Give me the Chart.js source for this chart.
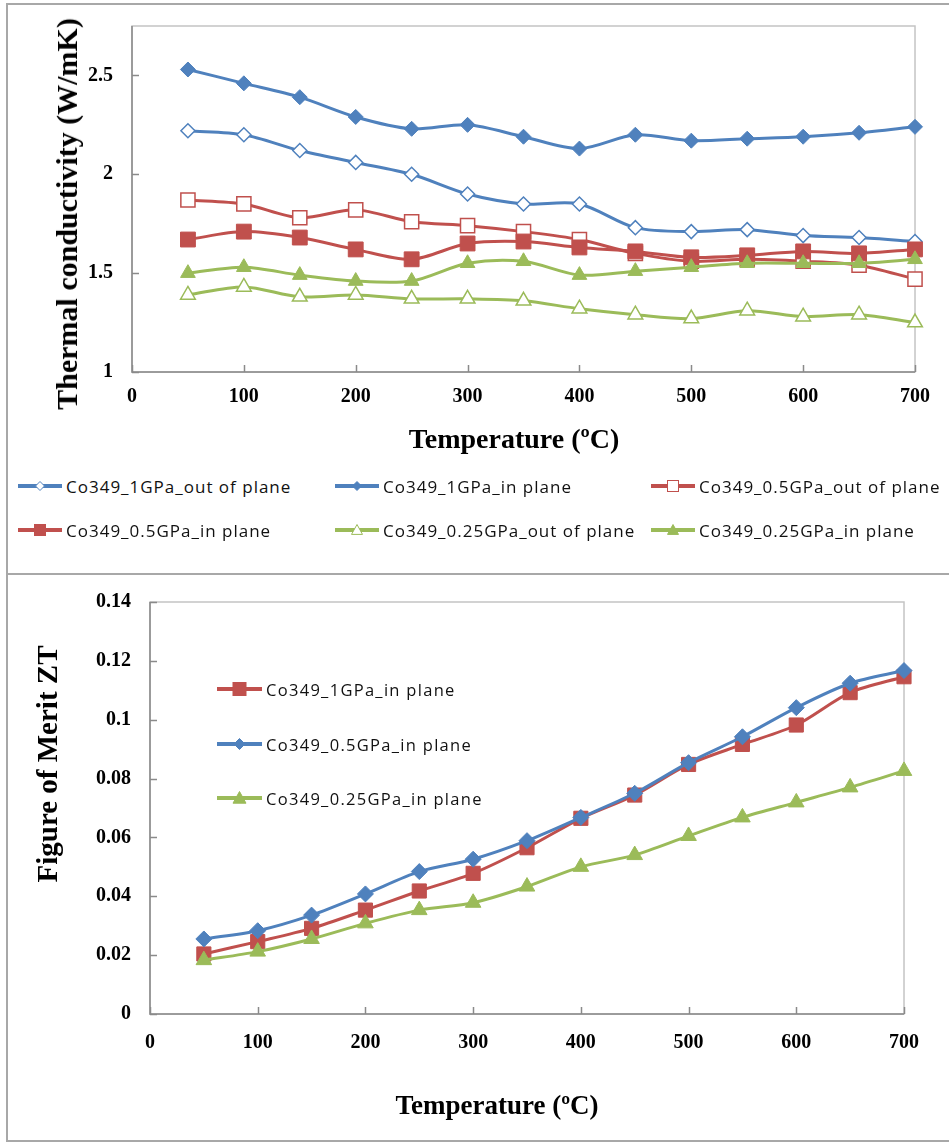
<!DOCTYPE html>
<html>
<head>
<meta charset="utf-8">
<script src="https://cdn.jsdelivr.net/npm/chart.js@4.4.1/dist/chart.umd.min.js"></script>
<style>
  html, body { margin: 0; padding: 0; background: #fff; }
  body { width: 949px; height: 1143px; position: relative; overflow: hidden; }
  .frame { position: absolute; box-sizing: border-box; border: 2px solid #a8a8a8; }
  canvas { position: absolute; left: 0; }
  .title { position: absolute; font-family: 'Liberation Serif', 'Times New Roman', serif; font-weight: bold; color: #000; white-space: nowrap; transform: translate(-50%, -50%); line-height: 1; }
  .title.rot { transform: translate(-50%, -50%) rotate(-90deg); }
  .lg { position: absolute; display: flex; align-items: center; height: 20px; font-family: 'Open Sans', sans-serif; color: #111; white-space: nowrap; }
  .lg svg { flex: none; margin-right: 4px; }
</style>
</head>
<body>
<div class="frame" style="left:6px; top:3px; width:1000px; height:572px;"></div>
<div class="frame" style="left:6px; top:573px; width:1000px; height:569px;"></div>

<canvas id="kChart" width="949" height="470" style="top:0"></canvas>
<canvas id="ztChart" width="949" height="568" style="top:575px"></canvas>

<div class="title rot" style="left:67px; top:214px; font-size:30px;">Thermal conductivity (W/mK)</div>
<div class="title" style="left:514px; top:439px; font-size:28px;">Temperature (ºC)</div>
<div class="title rot" style="left:47px; top:764px; font-size:29px;">Figure of Merit ZT</div>
<div class="title" style="left:497px; top:1105px; font-size:27px;">Temperature (ºC)</div>

<div id="kLegend"></div>
<div id="ztLegend"></div>

<script>
// Measurement temperatures (ºC)
const temps = [50, 100, 150, 200, 250, 300, 350, 400, 450, 500, 550, 600, 650, 700];

// Thermal conductivity (W/mK)
const k1GPaOut   = [2.22, 2.20, 2.12, 2.06, 2.00, 1.90, 1.85, 1.85, 1.73, 1.71, 1.72, 1.69, 1.68, 1.66];
const k1GPaIn    = [2.53, 2.46, 2.39, 2.29, 2.23, 2.25, 2.19, 2.13, 2.20, 2.17, 2.18, 2.19, 2.21, 2.24];
const k05GPaOut  = [1.87, 1.85, 1.78, 1.82, 1.76, 1.74, 1.71, 1.67, 1.60, 1.56, 1.57, 1.56, 1.54, 1.47];
const k05GPaIn   = [1.67, 1.71, 1.68, 1.62, 1.57, 1.65, 1.66, 1.63, 1.61, 1.58, 1.59, 1.61, 1.60, 1.62];
const k025GPaOut = [1.39, 1.43, 1.38, 1.39, 1.37, 1.37, 1.36, 1.32, 1.29, 1.27, 1.31, 1.28, 1.29, 1.25];
const k025GPaIn  = [1.50, 1.53, 1.49, 1.46, 1.46, 1.55, 1.56, 1.49, 1.51, 1.53, 1.55, 1.55, 1.55, 1.57];

// Figure of merit ZT (in plane)
const zt1GPa   = [0.0204, 0.0246, 0.0291, 0.0353, 0.0418, 0.0478, 0.0565, 0.0665, 0.0744, 0.0848, 0.0916, 0.0982, 0.1092, 0.1146];
const zt05GPa  = [0.0255, 0.0283, 0.0336, 0.0408, 0.0484, 0.0526, 0.0589, 0.0668, 0.0750, 0.0854, 0.0942, 0.1041, 0.1124, 0.1167];
const zt025GPa = [0.0183, 0.0212, 0.0255, 0.0308, 0.0353, 0.0378, 0.0433, 0.0500, 0.0540, 0.0605, 0.0668, 0.0719, 0.0770, 0.0826];

// Axis ranges and tick steps
const tempRange = { min: 0, max: 700, step: 100 };
const kRange = { min: 1, max: 2.75, step: 0.5, lastTick: 2.5 };
const ztRange = { min: 0, max: 0.14, step: 0.02 };

const BLUE = '#4F81BD', RED = '#C0504D', GREEN = '#9BBB59';

const pts = vals => vals.map((v, i) => ({ x: temps[i], y: v }));

function series(label, vals, color, style, filled, radius, order) {
  return {
    label, data: pts(vals), order,
    borderColor: color, borderWidth: 3, tension: 0.3, clip: false,
    pointStyle: style, pointRadius: radius, pointHoverRadius: radius,
    pointBackgroundColor: filled ? color : '#ffffff',
    pointBorderColor: color, pointBorderWidth: filled ? 1 : 1.5,
    _filled: filled
  };
}

// Plot box, axis lines and inward tick marks
const plotFrame = {
  id: 'plotFrame',
  beforeDatasetsDraw(chart) {
    const { ctx, chartArea: a, scales: { x, y } } = chart;
    ctx.save();
    ctx.strokeStyle = '#c4c4c4';
    ctx.lineWidth = 1.5;
    ctx.strokeRect(a.left, a.top, a.right - a.left, a.bottom - a.top);
    ctx.strokeStyle = '#8a8a8a';
    ctx.lineWidth = 1.5;
    ctx.beginPath();
    ctx.moveTo(a.left, a.top);
    ctx.lineTo(a.left, a.bottom);
    ctx.lineTo(a.right, a.bottom);
    x.ticks.forEach(t => {
      const px = Math.round(x.getPixelForValue(t.value)) + 0.5;
      ctx.moveTo(px, a.bottom);
      ctx.lineTo(px, a.bottom - 7);
    });
    y.ticks.forEach(t => {
      const py = Math.round(y.getPixelForValue(t.value)) + 0.5;
      ctx.moveTo(a.left, py);
      ctx.lineTo(a.left + 7, py);
    });
    ctx.stroke();
    ctx.restore();
  }
};

const tickFont = { family: "'Liberation Serif', 'Times New Roman', serif", weight: 'bold', size: 20 };
const plainNumber = v => String(parseFloat(Number(v).toFixed(4)));

function noScalePadding(s) {
  s.paddingTop = 0; s.paddingBottom = 0; s.paddingLeft = 0; s.paddingRight = 0;
}

function xScale(height, pad) {
  return {
    type: 'linear', min: tempRange.min, max: tempRange.max,
    grid: { display: false, drawTicks: false }, border: { display: false },
    ticks: { stepSize: tempRange.step, font: tickFont, color: '#000', padding: pad, callback: plainNumber },
    afterFit: s => { s.height = height; noScalePadding(s); }
  };
}
function yScale(range, width, pad) {
  return {
    type: 'linear', min: range.min, max: range.max,
    grid: { display: false, drawTicks: false }, border: { display: false },
    ticks: { stepSize: range.step, font: tickFont, color: '#000', padding: pad, callback: plainNumber },
    afterBuildTicks: s => {
      const top = range.lastTick !== undefined ? range.lastTick : range.max;
      s.ticks = s.ticks.filter(t => t.value <= top + 1e-9);
    },
    afterFit: s => { s.width = width; noScalePadding(s); }
  };
}

const baseOptions = {
  responsive: false, animation: false, devicePixelRatio: 1,
  plugins: { legend: { display: false }, tooltip: { enabled: false } },
  events: []
};

const kChart = new Chart(document.getElementById('kChart'), {
  type: 'line',
  data: {
    datasets: [
      series('Co349_1GPa_out of plane',    k1GPaOut,   BLUE,  'rectRot',  false, 7,   6),
      series('Co349_1GPa_in plane',        k1GPaIn,    BLUE,  'rectRot',  true,  7.5, 5),
      series('Co349_0.5GPa_out of plane',  k05GPaOut,  RED,   'rect',     false, 10,  4),
      series('Co349_0.5GPa_in plane',      k05GPaIn,   RED,   'rect',     true,  10.5,3),
      series('Co349_0.25GPa_out of plane', k025GPaOut, GREEN, 'triangle', false, 8.5, 2),
      series('Co349_0.25GPa_in plane',     k025GPaIn,  GREEN, 'triangle', true,  8.5, 1)
    ]
  },
  options: Object.assign({}, baseOptions, {
    layout: { padding: { left: 0, top: 26, right: 34, bottom: 0 } },
    scales: { x: xScale(470 - 372, 13), y: yScale(kRange, 132, 19) }
  }),
  plugins: [plotFrame]
});

const ztChart = new Chart(document.getElementById('ztChart'), {
  type: 'line',
  data: {
    datasets: [
      series('Co349_1GPa_in plane',    zt1GPa,   RED,   'rect',     true, 10, 3),
      series('Co349_0.5GPa_in plane',  zt05GPa,  BLUE,  'rectRot',  true, 8,  2),
      series('Co349_0.25GPa_in plane', zt025GPa, GREEN, 'triangle', true, 9,  1)
    ]
  },
  options: Object.assign({}, baseOptions, {
    layout: { padding: { left: 0, top: 27, right: 45, bottom: 0 } },
    scales: { x: xScale(568 - 439, 17), y: yScale(ztRange, 150, 19) }
  }),
  plugins: [plotFrame]
});

// Legend glyph: a line segment with the series marker in its middle
function glyph(ds, w, markerSize) {
  const h = 20, cx = w / 2, cy = h / 2, r = markerSize / 2;
  const fill = ds._filled ? ds.borderColor : '#ffffff';
  let marker = '';
  if (ds.pointStyle === 'rect') {
    marker = `<rect x="${cx - r}" y="${cy - r}" width="${2 * r}" height="${2 * r}" fill="${fill}" stroke="${ds.borderColor}" stroke-width="1"/>`;
  } else if (ds.pointStyle === 'rectRot') {
    marker = `<polygon points="${cx},${cy - r} ${cx + r},${cy} ${cx},${cy + r} ${cx - r},${cy}" fill="${fill}" stroke="${ds.borderColor}" stroke-width="1"/>`;
  } else {
    marker = `<polygon points="${cx},${cy - r} ${cx + r},${cy + r * 0.8} ${cx - r},${cy + r * 0.8}" fill="${fill}" stroke="${ds.borderColor}" stroke-width="1"/>`;
  }
  return `<svg width="${w}" height="${h}"><line x1="0" y1="${cy}" x2="${w}" y2="${cy}" stroke="${ds.borderColor}" stroke-width="4"/>${marker}</svg>`;
}

function buildLegend(host, chart, slots, opts) {
  chart.data.datasets.forEach((ds, i) => {
    const s = slots[i];
    const el = document.createElement('div');
    el.className = 'lg';
    el.style.left = s[0] + 'px';
    el.style.top = (s[1] - 10) + 'px';
    el.style.fontSize = opts.fontSize + 'px';
    el.style.letterSpacing = opts.spacing + 'px';
    const size = ds.pointStyle === 'rectRot' ? opts.marker - 2 : opts.marker;
    el.innerHTML = glyph(ds, opts.lineWidth, size) + '<span>' + ds.label + '</span>';
    host.appendChild(el);
  });
}

buildLegend(document.getElementById('kLegend'), kChart,
  [[18, 486], [335, 486], [651, 486], [18, 530], [335, 530], [651, 530]],
  { fontSize: 17, spacing: 1, lineWidth: 44, marker: 11 });

buildLegend(document.getElementById('ztLegend'), ztChart,
  [[217, 689], [217, 744], [217, 798]],
  { fontSize: 16.5, spacing: 1.3, lineWidth: 45, marker: 13 });
</script>
</body>
</html>
